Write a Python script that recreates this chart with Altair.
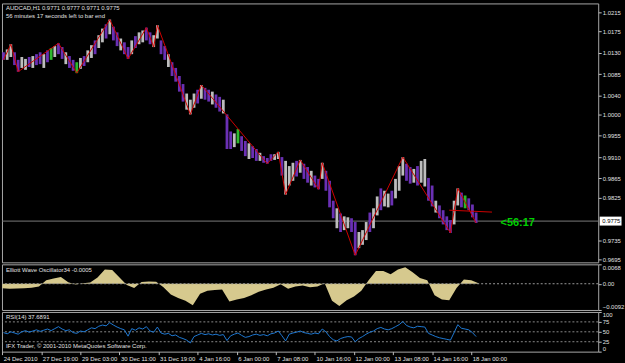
import altair as alt
import pandas as pd

FONT = "Liberation Sans"
FS = 6
TXT = "#E0E0E0"

# ---------------- price bars (H1 bars, shown in groups of three hours) ----------------
HI = [1.0131, 1.0137, 1.0148, 1.0131, 1.0115, 1.0121, 1.0117, 1.0121, 1.0123, 1.0127,
      1.0131, 1.0127, 1.0135, 1.0140, 1.0144, 1.0150, 1.0142, 1.0131, 1.0123, 1.0115,
      1.0110, 1.0119, 1.0123, 1.0135, 1.0146, 1.0156, 1.0167, 1.0181, 1.0190, 1.0200,
      1.0185, 1.0173, 1.0160, 1.0152, 1.0142, 1.0156, 1.0165, 1.0173, 1.0177, 1.0183,
      1.0173, 1.0167, 1.0188, 1.0156, 1.0144, 1.0127, 1.0110, 1.0098, 1.0081, 1.0064,
      1.0044, 1.0031, 1.0044, 1.0052, 1.0062, 1.0056, 1.0052, 1.0048, 1.0042, 1.0037,
      1.0031, 1.0000, 0.9964, 0.9960, 0.9969, 0.9954, 0.9944, 0.9939, 0.9933, 0.9927,
      0.9919, 0.9912, 0.9908, 0.9916, 0.9916, 0.9921, 0.9910, 0.9902, 0.9891, 0.9898,
      0.9902, 0.9904, 0.9896, 0.9889, 0.9881, 0.9871, 0.9864, 0.9898, 0.9881, 0.9860,
      0.9818, 0.9802, 0.9791, 0.9785, 0.9783, 0.9781, 0.9773, 0.9752, 0.9756, 0.9773,
      0.9793, 0.9802, 0.9827, 0.9844, 0.9839, 0.9833, 0.9839, 0.9864, 0.9891, 0.9910,
      0.9896, 0.9889, 0.9885, 0.9891, 0.9902, 0.9906, 0.9866, 0.9850, 0.9818, 0.9808,
      0.9798, 0.9785, 0.9777, 0.9818, 0.9844, 0.9835, 0.9829, 0.9823, 0.9810, 0.9793]
LO = [1.0115, 1.0115, 1.0121, 1.0104, 1.0090, 1.0098, 1.0094, 1.0100, 1.0098, 1.0104,
      1.0106, 1.0098, 1.0110, 1.0115, 1.0121, 1.0127, 1.0117, 1.0106, 1.0098, 1.0092,
      1.0087, 1.0096, 1.0102, 1.0110, 1.0119, 1.0127, 1.0140, 1.0152, 1.0160, 1.0169,
      1.0156, 1.0144, 1.0135, 1.0127, 1.0117, 1.0127, 1.0140, 1.0148, 1.0152, 1.0156,
      1.0148, 1.0142, 1.0160, 1.0127, 1.0115, 1.0100, 1.0081, 1.0069, 1.0048, 1.0027,
      1.0010, 1.0000, 1.0014, 1.0023, 1.0033, 1.0031, 1.0027, 1.0021, 1.0014, 1.0006,
      1.0002, 0.9927, 0.9927, 0.9931, 0.9939, 0.9923, 0.9912, 0.9906, 0.9908, 0.9902,
      0.9902, 0.9898, 0.9896, 0.9902, 0.9904, 0.9906, 0.9871, 0.9831, 0.9850, 0.9860,
      0.9869, 0.9877, 0.9864, 0.9856, 0.9850, 0.9846, 0.9842, 0.9864, 0.9839, 0.9804,
      0.9781, 0.9760, 0.9752, 0.9756, 0.9760, 0.9752, 0.9703, 0.9718, 0.9725, 0.9735,
      0.9752, 0.9760, 0.9787, 0.9798, 0.9806, 0.9804, 0.9808, 0.9823, 0.9839, 0.9871,
      0.9860, 0.9854, 0.9856, 0.9850, 0.9856, 0.9848, 0.9818, 0.9806, 0.9793, 0.9781,
      0.9768, 0.9756, 0.9750, 0.9768, 0.9808, 0.9804, 0.9802, 0.9798, 0.9783, 0.9771]
# u = up bar (silver), d = down bar (purple), g = green-marked bar
KIND = ("duudduudud" "dudguddudd" "guduuduudu" "ddudduduud" "duuddudddd"
        "uuududdudd" "uddugddudd" "uddduuduuu" "dudduddudd" "duduudduuu"
        "duuduuduuu" "dduduuddud" "ddduudgddd")

# ---------------- zigzag pivots ----------------
ZZ_BAR = [1, 7, 13, 46, 61, 88, 103, 118, 124, 127, 154, 163, 217, 226, 232, 244,
          259, 262, 289, 328, 367, 373, 388]
ZZ_PRICE = [1.0115, 1.0148, 1.0090, 1.0150, 1.0087, 1.0200, 1.0117, 1.0183, 1.0142,
            1.0188, 1.0000, 1.0062, 0.9896, 0.9921, 0.9831, 0.9904, 0.9842, 0.9898,
            0.9703, 0.9910, 0.9750, 0.9844, 0.9771]

# short red trend line near the end
TL_BAR = [366, 401]
TL_PRICE = [0.9798, 0.9794]

BID = 0.9775
COUNTDOWN = "<56:17"
COUNTDOWN_BAR = 408

# ---------------- Elliott Wave Oscillator (every 6 bars) ----------------
OSC_STEP = 6
OSC = [-0.0016, -0.0018, -0.0017, -0.0016, -0.0014, -0.0010, 0.0012, 0.0018, 0.0024, 0.0005,
       -0.0003, 0.0002, 0.0004, 0.0022, 0.0050, 0.0048, 0.0022, -0.0004, -0.0015, 0.0006,
       0.0008, 0.0007, -0.0012, -0.0038, -0.0050, -0.0060, -0.0075, -0.0035, -0.0025, -0.0022,
       -0.0020, -0.0062, -0.0055, -0.0050, -0.0040, -0.0028, -0.0020, -0.0014, -0.0002, -0.0018,
       -0.0010, -0.0006, -0.0012, -0.0010, 0.0002, -0.0060, -0.0078, -0.0058, -0.0045, -0.0025,
       0.0012, 0.0045, 0.0045, 0.0033, 0.0050, 0.0058, 0.0040, 0.0020, 0.0012, -0.0040,
       -0.0055, -0.0058, -0.0015, 0.0015, 0.0012, 0.0002]

# ---------------- RSI(14) (one value per bar group) ----------------
RSI = [48, 45, 50, 47, 44, 50, 53, 49, 52, 55,
       51, 54, 57, 53, 58, 63, 57, 53, 55, 48,
       46, 52, 50, 55, 60, 58, 64, 67, 65, 73,
       67, 62, 58, 55, 39, 58, 54, 60, 57, 63,
       52, 49, 62, 47, 44, 46, 40, 42, 36, 33,
       29, 22, 38, 42, 46, 43, 45, 42, 44, 41,
       43, 28, 40, 44, 47, 41, 36, 38, 42, 44,
       41, 43, 40, 45, 47, 52, 40, 27, 44, 47,
       49, 52, 48, 46, 44, 47, 45, 57, 50, 38,
       30, 27, 33, 36, 38, 37, 25, 33, 38, 44,
       49, 52, 58, 61, 57, 55, 58, 63, 68, 76,
       66, 62, 60, 64, 63, 62, 46, 42, 38, 35,
       33, 31, 29, 48, 68, 59, 57, 55, 48, 38]
RSI_LEVELS = [75, 50, 25]

# ---------------- axes ----------------
PRICE_TICKS = [1.0215, 1.0175, 1.0130, 1.0085, 1.0040, 1.0000, 0.9955, 0.9910,
               0.9865, 0.9825, 0.9735, 0.9695]
OSC_TICKS = [0.0068, 0.0, -0.0092]
RSI_TICKS = [100, 75, 50, 25, 0]
X_STEP = 32
X_LABELS = ["24 Dec 2010", "27 Dec 19:00", "29 Dec 03:00", "30 Dec 11:00", "31 Dec 19:00",
            "4 Jan 16:00", "6 Jan 00:00", "7 Jan 08:00", "10 Jan 16:00", "12 Jan 00:00",
            "13 Jan 08:00", "14 Jan 16:00", "18 Jan 00:00"]

HEADER1 = "AUDCAD,H1  0.9771 0.9777 0.9771 0.9775"
HEADER2 = "56 minutes 17 seconds left to bar end"
OSC_TITLE = "Elliott Wave Oscillator34 -0.0005"
RSI_TITLE = "RSI(14) 37.6891"
COPYRIGHT = "IFX Trader, © 2001-2010 MetaQuotes Software Corp."

# ---------------- tables ----------------
GROUP = 3
bars = pd.DataFrame({"bar": [GROUP * i + 1 for i in range(len(HI))],
                     "hi": HI, "lo": LO, "kind": list(KIND)})
zz = pd.DataFrame({"bar": ZZ_BAR, "price": ZZ_PRICE})
tl = pd.DataFrame({"bar": TL_BAR, "price": TL_PRICE})
bid = pd.DataFrame({"price": [BID], "label": [f"{BID:.4f}"]})
cd = pd.DataFrame({"bar": [COUNTDOWN_BAR], "price": [BID], "label": [COUNTDOWN]})
osc = pd.DataFrame({"bar": [OSC_STEP * i for i in range(len(OSC))], "v": OSC,
                    "zero": [0.0] * len(OSC)})
oscz = pd.DataFrame({"v": [0.0]})
rsi = pd.DataFrame({"bar": [GROUP * i + 1 for i in range(len(RSI))], "v": RSI})
rsil = pd.DataFrame({"v": RSI_LEVELS})
one = pd.DataFrame({"a": [0]})

W = 601
H_MAIN, H_OSC, H_RSI = 261, 46, 40

xs = alt.Scale(domain=[-0.25, 488], nice=False, zero=False)
ys = alt.Scale(domain=[0.9688, 1.0234], nice=False, zero=False)
os_ = alt.Scale(domain=[-0.0092, 0.0068], nice=False, zero=False)
rs = alt.Scale(domain=[0, 100], nice=False, zero=False)

ax_common = dict(orient="right", labelFont=FONT, labelFontSize=FS, labelColor=TXT,
                 tickColor="#C0C0C0", tickSize=3, labelPadding=1, domain=False,
                 grid=False, labelOverlap=False, title=None)
AX_MAIN = alt.Axis(values=PRICE_TICKS, format=".4f", labelFlush=False, **ax_common)
AX_OSC = alt.Axis(values=OSC_TICKS, labelFlush=True,
                  labelExpr="datum.value == 0 ? '0.00' : format(datum.value, '.4f')",
                  **ax_common)
AX_RSI = alt.Axis(values=RSI_TICKS, labelFlush=True, **ax_common)
label_expr = "[" + ",".join(f"'{s}'" for s in X_LABELS) + f"][round(datum.value / {X_STEP})]"
AX_X = alt.Axis(values=[X_STEP * i for i in range(len(X_LABELS))],
                labelExpr=label_expr, labelAlign="left", labelBaseline="top",
                labelOffset=1, labelFont=FONT, labelFontSize=FS, labelColor=TXT,
                tickColor="#C0C0C0", tickSize=3, labelPadding=1, domain=False,
                grid=False, labelOverlap=False, labelFlush=False, title=None)


def txt(text, y):
    return alt.Chart(one).mark_text(align="left", baseline="middle", font=FONT,
                                    fontSize=FS, color=TXT).encode(
        x=alt.value(4), y=alt.value(y), text=alt.value(text))


# ---------------- main panel ----------------
bid_line = alt.Chart(bid).mark_rule(color="#7A7A7A", strokeWidth=1).encode(
    y=alt.Y("price:Q", scale=ys, axis=AX_MAIN))
bar_marks = alt.Chart(bars).mark_rule(strokeWidth=2.8).encode(
    x=alt.X("bar:Q", scale=xs, axis=None),
    y=alt.Y("lo:Q", scale=ys, axis=AX_MAIN),
    y2="hi:Q",
    color=alt.Color("kind:N", legend=None,
                    scale=alt.Scale(domain=["u", "d", "g"],
                                    range=["#BDBDBD", "#6A30B4", "#2DB82D"])))
zig = alt.Chart(zz).mark_line(color="#D00000", strokeWidth=1).encode(
    x=alt.X("bar:Q", scale=xs, axis=None), y=alt.Y("price:Q", scale=ys, axis=AX_MAIN))
tline = alt.Chart(tl).mark_line(color="#D00000", strokeWidth=1).encode(
    x=alt.X("bar:Q", scale=xs, axis=None), y=alt.Y("price:Q", scale=ys, axis=AX_MAIN))
cd_text = alt.Chart(cd).mark_text(align="left", baseline="middle", font="Liberation Sans",
                                  fontSize=11, fontWeight="bold", color="#00D000", dy=2).encode(
    x=alt.X("bar:Q", scale=xs, axis=None), y=alt.Y("price:Q", scale=ys, axis=AX_MAIN),
    text="label:N")
tag = alt.Chart(bid).mark_point(shape="M-1,-0.41L1,-0.41L1,0.41L-1,0.41Z", size=484,
                                filled=True, color="white", opacity=1, strokeWidth=0).encode(
    x=alt.value(W + 12.5), y=alt.Y("price:Q", scale=ys, axis=AX_MAIN))
tag_text = alt.Chart(bid).mark_text(align="left", baseline="middle", font=FONT,
                                    fontSize=FS, color="black").encode(
    x=alt.value(W + 4), y=alt.Y("price:Q", scale=ys, axis=AX_MAIN), text="label:N")

main = alt.layer(bid_line, bar_marks, zig, tline, cd_text, tag, tag_text,
                 txt(HEADER1, 5), txt(HEADER2, 13)).properties(width=W, height=H_MAIN)

# ---------------- oscillator panel ----------------
osc_area = alt.Chart(osc).mark_area(color="#D6C98E", opacity=1).encode(
    x=alt.X("bar:Q", scale=xs, axis=None),
    y=alt.Y("v:Q", scale=os_, axis=AX_OSC),
    y2="zero:Q")
osc_zero = alt.Chart(oscz).mark_rule(color="#9A9A9A", strokeDash=[2, 2], strokeWidth=1).encode(
    y=alt.Y("v:Q", scale=os_, axis=AX_OSC))
oscp = alt.layer(osc_area, osc_zero, txt(OSC_TITLE, 6)).properties(width=W, height=H_OSC)

# ---------------- RSI panel ----------------
rsi_lv = alt.Chart(rsil).mark_rule(color="#8A8A8A", strokeDash=[2, 2], strokeWidth=1).encode(
    y=alt.Y("v:Q", scale=rs, axis=AX_RSI))
rsi_line = alt.Chart(rsi).mark_line(color="#1E78D2", strokeWidth=1).encode(
    x=alt.X("bar:Q", scale=xs, axis=AX_X),
    y=alt.Y("v:Q", scale=rs, axis=AX_RSI))
rsip = alt.layer(rsi_lv, rsi_line, txt(RSI_TITLE, 5), txt(COPYRIGHT, 34)).properties(
    width=W, height=H_RSI)

chart = alt.vconcat(main, oscp, rsip, spacing=2, bounds="flush").properties(
    background="black",
    padding={"left": 1, "top": 1, "right": 0, "bottom": 0},
).configure_view(stroke="#A8A8A8", strokeWidth=1)

chart.save("out.html", embed_options={"renderer": "svg", "actions": False})
